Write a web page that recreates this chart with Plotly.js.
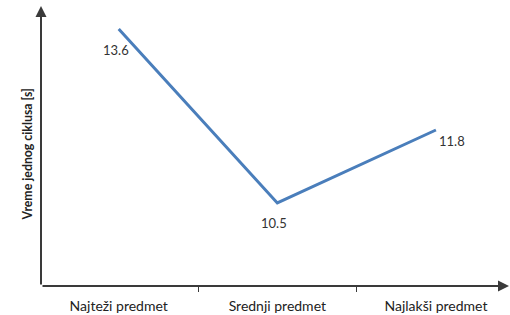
<!DOCTYPE html>
<html>
<head>
<meta charset="utf-8">
<script src="https://cdn.plot.ly/plotly-3.0.1.min.js"></script>
<style>html,body{margin:0;padding:0;background:#fff;}#chart{width:510px;height:315px;}</style>
</head>
<body>
<div id="chart"></div>
<script>
var categories = ["Najteži predmet", "Srednji predmet", "Najlakši predmet"];
var values = [13.6, 10.5, 11.8];
var valueLabels = ["13.6", "10.5", "11.8"];
var yTitle = "Vreme jednog ciklusa [s]";

var labelShifts = [[-3, -21], [-3, -20], [16, -11]];
var FONT = "Lato, 'Open Sans', sans-serif";
var axisColor = "#3a3a3a";

var trace = {
  x: categories,
  y: values,
  type: "scatter",
  mode: "lines",
  line: {color: "#4a7ebb", width: 3},
  hoverinfo: "none"
};

var annotations = values.map(function (v, i) {
  return {
    x: categories[i], y: v, xref: "x", yref: "y",
    text: valueLabels[i], showarrow: false,
    xshift: labelShifts[i][0], yshift: labelShifts[i][1],
    font: {family: FONT, size: 13, color: "#333"}
  };
});
annotations.push({
  xref: "paper", yref: "paper", x: 0, y: 0.468, xshift: -23,
  text: "<b>" + yTitle + "</b>", textangle: -90, showarrow: false,
  font: {family: FONT, size: 12.3, color: "#222"}
});
// axis arrows
annotations.push({
  xref: "paper", yref: "paper", x: 0, y: 1, ax: 0, ay: 280,
  axref: "pixel", ayref: "pixel", text: "", showarrow: true,
  arrowhead: 2, arrowsize: 1.1, arrowwidth: 2, arrowcolor: axisColor
});
annotations.push({
  xref: "paper", yref: "paper", x: 1, y: 0, ax: -469, ay: 0,
  axref: "pixel", ayref: "pixel", text: "", showarrow: true,
  arrowhead: 2, arrowsize: 1.1, arrowwidth: 2, arrowcolor: axisColor
});

var layout = {
  width: 510, height: 315,
  margin: {l: 41, r: 0, t: 6, b: 29},
  paper_bgcolor: "#fff", plot_bgcolor: "#fff",
  showlegend: false,
  xaxis: {
    type: "category",
    range: [-0.49, 2.467],
    tickson: "boundaries",
    ticks: "outside", ticklen: 5, tickwidth: 1, tickcolor: axisColor,
    ticklabelstandoff: 10,
    showline: false, showgrid: false, zeroline: false,
    tickfont: {family: FONT, size: 14, color: "#222"},
    fixedrange: true
  },
  yaxis: {
    range: [9.02, 14.01],
    showticklabels: false, ticks: "", showgrid: false, zeroline: false, showline: false,
    fixedrange: true
  },
  annotations: annotations
};

Plotly.newPlot("chart", [trace], layout, {displayModeBar: false, staticPlot: true});
</script>
</body>
</html>
